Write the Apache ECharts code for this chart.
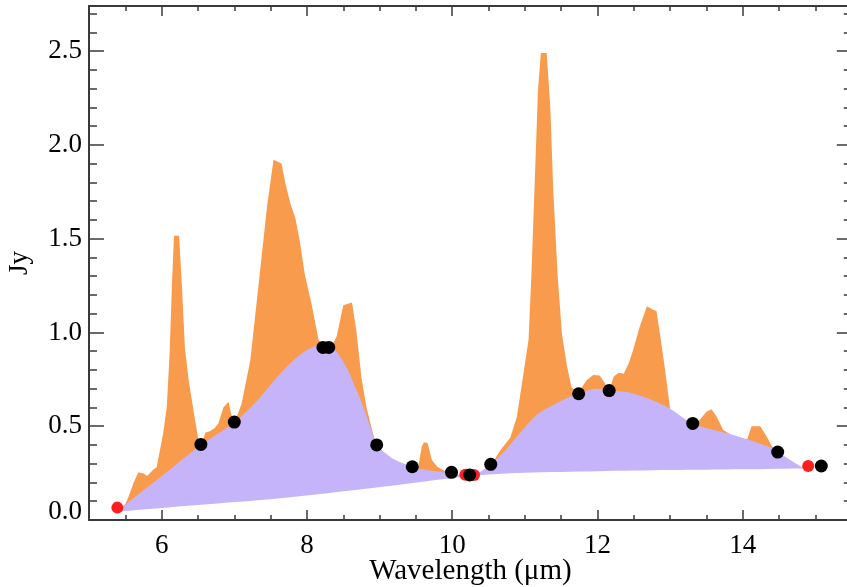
<!DOCTYPE html>
<html><head><meta charset="utf-8">
<script src="https://cdn.jsdelivr.net/npm/echarts@6/dist/echarts.min.js"></script>
<style>html,body{margin:0;padding:0;background:#fff}#c{width:847px;height:587px}</style>
</head><body><div id="c"></div>
<script>
// Total spectrum (orange)
const spectrumX = [5.40,5.50,5.54,5.61,5.68,5.75,5.80,5.85,5.89,5.93,5.98,6.02,6.07,6.11,6.14,6.17,6.24,6.28,6.32,6.37,6.44,6.50,6.55,6.60,6.67,6.73,6.78,6.85,6.92,6.96,7.01,7.10,7.22,7.35,7.45,7.54,7.65,7.70,7.77,7.84,7.90,7.97,8.07,8.16,8.25,8.33,8.41,8.50,8.62,8.68,8.75,8.82,8.91,8.96,9.20,9.45,9.53,9.58,9.61,9.66,9.72,9.79,9.90,10.00,10.20,10.40,10.53,10.66,10.80,10.89,10.98,11.05,11.09,11.14,11.18,11.22,11.30,11.35,11.39,11.45,11.51,11.58,11.64,11.72,11.85,11.94,12.03,12.10,12.16,12.22,12.29,12.36,12.43,12.49,12.58,12.68,12.77,12.81,12.86,12.93,13.00,13.10,13.31,13.40,13.50,13.57,13.64,13.73,13.90,14.06,14.12,14.24,14.33,14.42,14.49,14.70,14.83];
const spectrumY = [0.05,0.085,0.12,0.195,0.255,0.248,0.235,0.255,0.27,0.28,0.38,0.46,0.60,0.89,1.24,1.515,1.515,1.24,0.92,0.75,0.58,0.44,0.40,0.465,0.475,0.49,0.515,0.60,0.63,0.56,0.525,0.62,0.85,1.31,1.67,1.92,1.90,1.80,1.69,1.61,1.49,1.31,1.14,0.96,0.915,0.915,0.98,1.145,1.16,1.01,0.76,0.60,0.46,0.39,0.32,0.28,0.28,0.39,0.415,0.41,0.32,0.285,0.26,0.245,0.23,0.25,0.29,0.37,0.44,0.55,0.78,0.96,1.31,1.85,2.29,2.49,2.49,2.20,1.76,1.31,0.99,0.82,0.71,0.67,0.745,0.773,0.77,0.73,0.685,0.763,0.785,0.78,0.835,0.906,1.03,1.14,1.12,1.115,0.99,0.80,0.59,0.56,0.51,0.53,0.577,0.59,0.55,0.48,0.44,0.43,0.50,0.50,0.444,0.38,0.355,0.305,0.275];
// Plateau / continuum (purple)
const plateauX = [5.40,6.00,6.54,7.00,7.30,7.63,7.90,8.10,8.25,8.40,8.55,8.65,8.73,8.87,8.96,9.08,9.19,9.45,9.69,9.99,10.20,10.35,10.53,10.75,10.93,11.16,11.39,11.62,11.74,11.99,12.16,12.49,12.95,13.31,13.87,14.42,14.49,14.69,14.83,14.90];
const plateauY = [0.05,0.234,0.40,0.52,0.63,0.78,0.88,0.925,0.935,0.90,0.81,0.72,0.65,0.50,0.40,0.355,0.325,0.284,0.264,0.25,0.235,0.25,0.297,0.38,0.462,0.56,0.613,0.657,0.675,0.70,0.69,0.675,0.604,0.515,0.453,0.382,0.361,0.311,0.281,0.276];
// Underlying continuum (lower boundary)
const baseX = [5.40,6.50,7.63,8.87,10.10,10.50,11.00,12.00,13.00,14.00,14.90,15.00];
const baseY = [0.045,0.08,0.116,0.169,0.228,0.243,0.252,0.26,0.266,0.27,0.276,0.277];
// Anchor points
const blackX = [6.54,7.00,8.22,8.30,8.96,9.45,9.99,10.24,10.53,11.74,12.16,13.31,14.48,15.08];
const blackY = [0.403,0.522,0.92,0.92,0.40,0.284,0.254,0.24,0.297,0.673,0.69,0.515,0.362,0.288];
const redX = [5.39,10.18,10.30,14.90];
const redY = [0.066,0.241,0.24,0.288];
// Ticks
const xMajorTicks = [6,8,10,12,14];
const xMinorTicks = [5.5,6.5,7,7.5,8.5,9,9.5,10.5,11,11.5,12.5,13,13.5,14.5,15];
const yMajorTicks = [0,0.5,1.0,1.5,2.0,2.5];
const yMinorTicks = [0.1,0.2,0.3,0.4,0.6,0.7,0.8,0.9,1.1,1.2,1.3,1.4,1.6,1.7,1.8,1.9,2.1,2.2,2.3,2.4,2.6,2.7];

const zip = (a,b) => a.map((v,i)=>[v,b[i]]);
const FONT = 'Liberation Serif';
const AX = '#3a3a3a';
const XMIN = 5, XMAX = 15.5, YMIN = 0, YMAX = 2.74;

function xAx(pos, ticks, len, showLine, showLabel, extra) {
  return Object.assign({
    type:'value', position:pos, min:XMIN, max:XMAX, z:10,
    axisLine:{show:showLine, onZero:false, lineStyle:{color:AX, width:2}},
    axisTick:{show:true, inside:true, length:len, customValues:ticks, lineStyle:{color:AX, width:1.5}},
    axisLabel:{show:showLabel, customValues:ticks, margin:12, color:'#000', fontFamily:FONT, fontSize:27},
    splitLine:{show:false}
  }, extra||{});
}
function yAx(pos, ticks, len, showLine, showLabel, extra) {
  return Object.assign({
    type:'value', position:pos, min:YMIN, max:YMAX, z:10,
    axisLine:{show:showLine, onZero:false, lineStyle:{color:AX, width:2}},
    axisTick:{show:true, inside:true, length:len, customValues:ticks, lineStyle:{color:AX, width:1.5}},
    axisLabel:{show:showLabel, customValues:ticks, margin:7, color:'#000', fontFamily:FONT, fontSize:27,
      formatter:v=>Number(v)===0 ? '{z|0.0}' : Number(v).toFixed(1),
      rich:{z:{fontFamily:FONT, fontSize:27, color:'#000', padding:[0,0,17,0]}}},
    splitLine:{show:false}
  }, extra||{});
}

const chart = echarts.init(document.getElementById('c'), null, {renderer:'canvas'});
chart.setOption({
  animation:false,
  backgroundColor:'#fff',
  grid:{left:89, top:6, width:762.8, height:514, outerBoundsMode:'none', containLabel:false},
  xAxis:[
    xAx('bottom', xMajorTicks, 10, true, true, {name:'Wavelength (μm)', nameLocation:'middle', nameGap:37,
      nameMoveOverlap:false,
      nameTextStyle:{fontFamily:FONT, fontSize:29, color:'#000'}}),
    xAx('bottom', xMinorTicks, 5, false, false),
    xAx('top', xMajorTicks, 10, true, false),
    xAx('top', xMinorTicks, 5, false, false)
  ],
  yAxis:[
    yAx('left', yMajorTicks, 15, true, true, {name:'Jy', nameLocation:'middle', nameGap:56,
      nameMoveOverlap:false,
      nameTextStyle:{fontFamily:FONT, fontSize:27, color:'#000'}}),
    yAx('left', yMinorTicks, 8, false, false),
    yAx('right', yMajorTicks, 15, true, false),
    yAx('right', yMinorTicks, 8, false, false)
  ],
  series:[
    {type:'line', data:zip(spectrumX, spectrumY), symbol:'none', smooth:false,
      lineStyle:{width:0}, areaStyle:{color:'#F89B4C', opacity:1, origin:'start'}, z:1},
    {type:'line', data:zip(plateauX, plateauY), symbol:'none', smooth:0.35,
      lineStyle:{width:0}, areaStyle:{color:'#C5B4FA', opacity:1, origin:'start'}, z:2},
    {type:'line', data:zip(baseX, baseY), symbol:'none', smooth:0.3,
      lineStyle:{width:0}, areaStyle:{color:'#ffffff', opacity:1, origin:'start'}, z:3},
    {type:'scatter', data:zip(redX, redY), symbol:'circle', symbolSize:12,
      itemStyle:{color:'#FF1E1E', opacity:1}, z:4},
    {type:'scatter', data:zip(blackX, blackY), symbol:'circle', symbolSize:13,
      itemStyle:{color:'#000', opacity:1}, z:5}
  ]
});
</script>
</body></html>
